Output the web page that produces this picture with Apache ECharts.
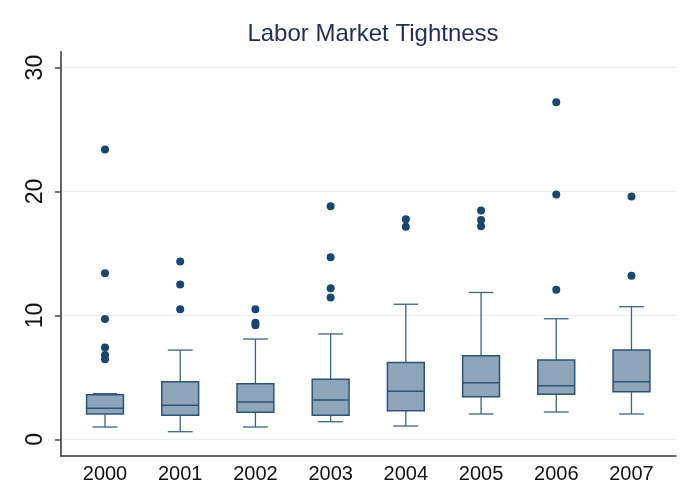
<!DOCTYPE html>
<html>
<head>
<meta charset="utf-8">
<script src="https://cdn.jsdelivr.net/npm/echarts@6/dist/echarts.min.js"></script>
<style>
    html, body {margin: 0; padding: 0; background: #fff;}
    #chart {width: 692px; height: 504px;}
</style>
</head>
<body>
<div id="chart"></div>
<script>
// 年份 (x 轴)
var years = ['2000', '2001', '2002', '2003', '2004', '2005', '2006', '2007'];
// 箱线图五数
var whiskerLow = [0.99, 0.61, 0.99, 1.42, 1.07, 2.04, 2.2, 2.04];
var q1 = [2.04, 1.93, 2.18, 1.94, 2.3, 3.44, 3.63, 3.84];
var median = [2.5, 2.74, 3.0, 3.17, 3.87, 4.56, 4.32, 4.65];
var q3 = [3.6, 4.65, 4.48, 4.84, 6.2, 6.74, 6.4, 7.2];
var whiskerHigh = [3.68, 7.2, 8.09, 8.5, 10.9, 11.85, 9.73, 10.7];
// 离群点
var outliers = [
    [23.4, 13.4, 9.7, 7.4, 6.8, 6.45],
    [14.35, 12.5, 10.5],
    [10.5, 9.4, 9.2],
    [18.8, 14.7, 12.2, 11.45],
    [17.77, 17.15],
    [18.47, 17.7, 17.2],
    [27.2, 19.76, 12.06],
    [19.6, 13.2]
];
var yTicks = [0, 10, 20, 30];

var navy = '#1a476f';

var boxData = years.map(function (y, i) {
    return [i, whiskerLow[i], q1[i], median[i], q3[i], whiskerHigh[i]];
});
var outlierData = [];
outliers.forEach(function (list, i) {
    list.forEach(function (v) {
        outlierData.push([i, v]);
    });
});

function renderBox(params, api) {
    var x = api.value(0);
    var pLow = api.coord([x, api.value(1)]);
    var pQ1 = api.coord([x, api.value(2)]);
    var pMed = api.coord([x, api.value(3)]);
    var pQ3 = api.coord([x, api.value(4)]);
    var pHigh = api.coord([x, api.value(5)]);
    var band = api.size([1, 0])[0];
    var half = band * 0.245;
    var cap = band * 0.165;
    var cx = pMed[0];
    var whisker = {stroke: '#3d6388', lineWidth: 1.3};
    return {
        type: 'group',
        children: [
            {type: 'line', shape: {x1: cx, y1: pLow[1], x2: cx, y2: pQ1[1]}, style: whisker},
            {type: 'line', shape: {x1: cx, y1: pQ3[1], x2: cx, y2: pHigh[1]}, style: whisker},
            {type: 'line', shape: {x1: cx - cap, y1: pLow[1], x2: cx + cap, y2: pLow[1]}, style: whisker},
            {type: 'line', shape: {x1: cx - cap, y1: pHigh[1], x2: cx + cap, y2: pHigh[1]}, style: whisker},
            {
                type: 'rect',
                shape: {x: cx - half, y: pQ3[1], width: half * 2, height: pQ1[1] - pQ3[1]},
                style: {fill: '#8ea4b9', stroke: '#2c5479', lineWidth: 1.5}
            },
            {type: 'line', shape: {x1: cx - half, y1: pMed[1], x2: cx + half, y2: pMed[1]},
                style: {stroke: '#2c5479', lineWidth: 1.5}}
        ]
    };
}

var chart = echarts.init(document.getElementById('chart'));
chart.setOption({
    backgroundColor: '#fff',
    animation: false,
    title: {
        text: 'Labor Market Tightness',
        left: 368,
        textAlign: 'center',
        top: 17,
        textStyle: {
            fontFamily: 'Liberation Sans, Arial, sans-serif',
            fontSize: 24,
            fontWeight: 'normal',
            color: '#1f2d57'
        }
    },
    grid: {left: 61, right: 16, top: 52, bottom: 48},
    xAxis: {
        type: 'value',
        min: -0.585,
        max: 7.592,
        axisLine: {show: true, onZero: false, lineStyle: {color: '#333', width: 1.5}},
        axisTick: {show: false},
        splitLine: {show: false},
        axisLabel: {
            customValues: [0, 1, 2, 3, 4, 5, 6, 7],
            formatter: function (v) { return years[Math.round(v)]; },
            margin: 8,
            fontFamily: 'Liberation Sans, Arial, sans-serif',
            fontSize: 20,
            color: '#111'
        }
    },
    yAxis: {
        type: 'value',
        min: -1.35,
        max: 31.26,
        axisLine: {show: true, onZero: false, lineStyle: {color: '#666', width: 2}},
        axisTick: {show: true, customValues: yTicks, length: 6, lineStyle: {color: '#444', width: 1.5}},
        splitLine: {show: false},
        axisLabel: {
            customValues: yTicks,
            rotate: 90,
            margin: 14,
            fontFamily: 'Liberation Sans, Arial, sans-serif',
            fontSize: 23,
            color: '#111'
        }
    },
    series: [
        {
            type: 'custom',
            renderItem: renderBox,
            encode: {x: 0, y: [1, 2, 3, 4, 5]},
            data: boxData,
            z: 2,
            markLine: {
                silent: true,
                z: 0,
                symbol: 'none',
                label: {show: false},
                lineStyle: {color: '#e6eff1', width: 1, type: 'solid'},
                data: yTicks.map(function (v) { return {yAxis: v}; })
            }
        },
        {
            type: 'scatter',
            symbol: 'circle',
            symbolSize: 8,
            itemStyle: {color: navy, opacity: 1},
            data: outlierData,
            z: 3
        }
    ]
});
</script>
</body>
</html>
